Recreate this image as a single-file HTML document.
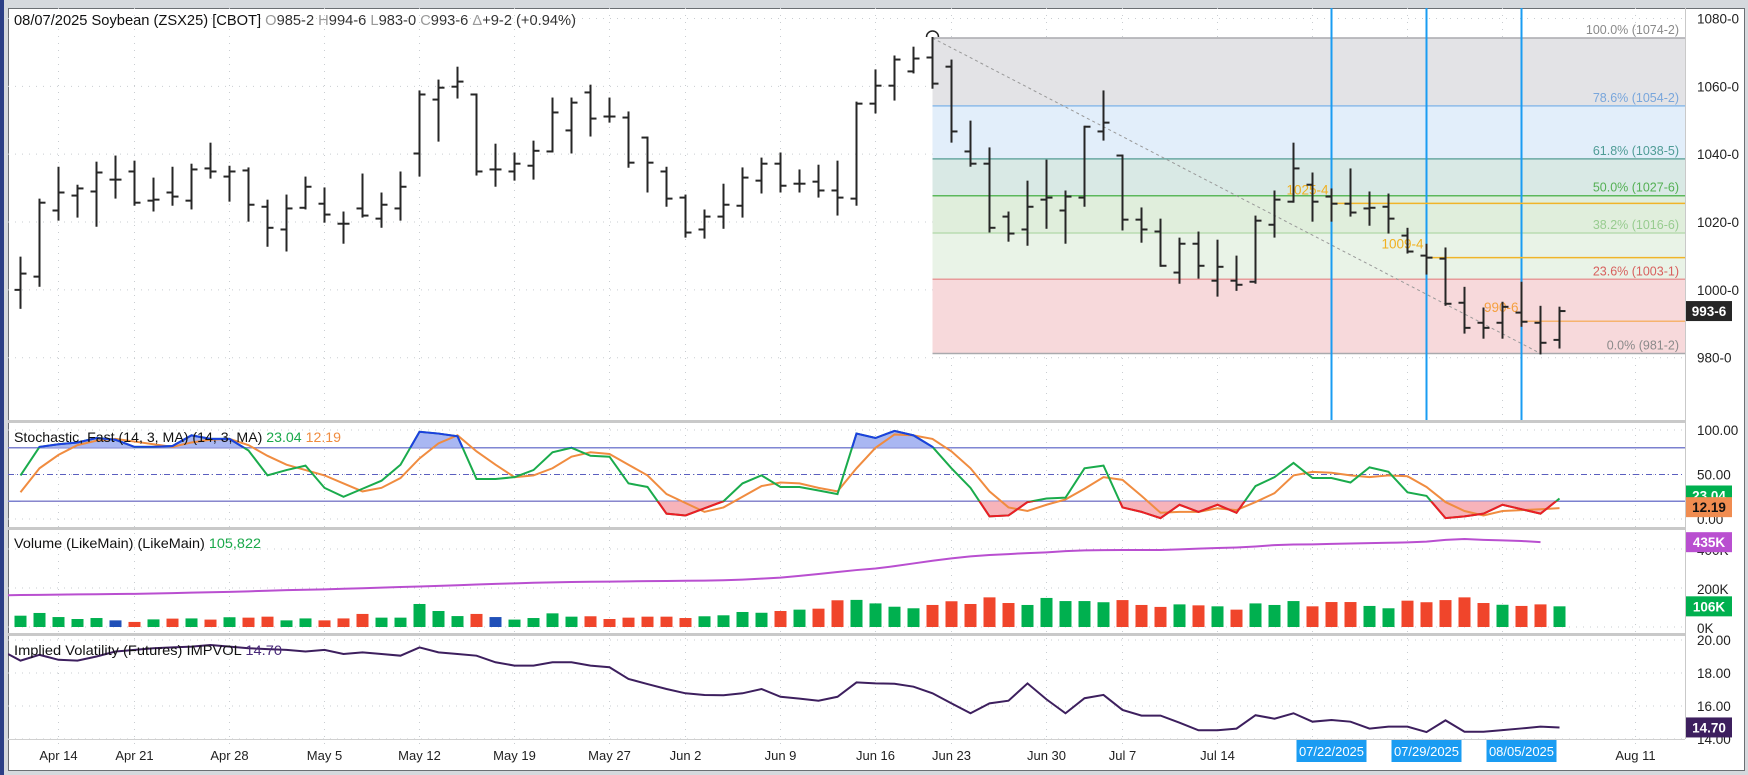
<!DOCTYPE html>
<html><head><meta charset="utf-8">
<style>
html,body{margin:0;padding:0;background:#d5d9dd;}
svg{display:block;font-family:"Liberation Sans",sans-serif;}
</style></head>
<body>
<svg id="chart" width="1748" height="775" viewBox="0 0 1748 775">
<defs>
<clipPath id="cp-price"><rect x="8" y="8" width="1677" height="412"/></clipPath>
<clipPath id="cp-stoch"><rect x="8" y="423" width="1677" height="104"/></clipPath>
<clipPath id="cp-vol"><rect x="8" y="530" width="1677" height="103"/></clipPath>
<clipPath id="cp-iv"><rect x="8" y="636" width="1677" height="102"/></clipPath>
<clipPath id="cp-above80"><rect x="8" y="423" width="1677" height="24.8"/></clipPath>
<clipPath id="cp-below20"><rect x="8" y="501.2" width="1677" height="26"/></clipPath>
</defs>
<rect x="0" y="0" width="1748" height="775" fill="#d5d9dd"/>
<rect x="0" y="0" width="4" height="775" fill="#2b3f86"/>
<rect x="8.5" y="8.5" width="1736" height="762" fill="#ffffff" stroke="#6b6f73"/>
<line x1="1685.5" y1="8" x2="1685.5" y2="739" stroke="#c9c9c9"/>
<g id="grid"></g>
<g id="fib" clip-path="url(#cp-price)"></g>
<g id="price" clip-path="url(#cp-price)"></g>
<g id="stoch" clip-path="url(#cp-stoch)"></g>
<g id="vol" clip-path="url(#cp-vol)"></g>
<g id="iv" clip-path="url(#cp-iv)"></g>
<g id="seps">
<rect x="8" y="420" width="1677" height="3" fill="#c9c9c9"/>
<rect x="8" y="527" width="1677" height="3" fill="#c9c9c9"/>
<rect x="8" y="633" width="1677" height="3" fill="#c9c9c9"/>
<line x1="8" y1="739.5" x2="1685" y2="739.5" stroke="#d0d0d0"/>
</g>
<g id="axes"></g>
<text x="14" y="25" font-size="14.5" textLength="562" lengthAdjust="spacingAndGlyphs"><tspan fill="#111">08/07/2025 Soybean (ZSX25) [CBOT] </tspan><tspan fill="#999">O</tspan><tspan fill="#333">985-2 </tspan><tspan fill="#999">H</tspan><tspan fill="#333">994-6 </tspan><tspan fill="#999">L</tspan><tspan fill="#333">983-0 </tspan><tspan fill="#999">C</tspan><tspan fill="#333">993-6 </tspan><tspan fill="#999">Δ</tspan><tspan fill="#333">+9-2 (+0.94%)</tspan></text>
<text x="14" y="442" font-size="14" textLength="327" lengthAdjust="spacingAndGlyphs"><tspan fill="#111">Stochastic, Fast (14, 3, MA) (14, 3, MA) </tspan><tspan fill="#1aa84a">23.04 </tspan><tspan fill="#f08c40">12.19</tspan></text>
<text x="14" y="548" font-size="14" textLength="247" lengthAdjust="spacingAndGlyphs"><tspan fill="#111">Volume (LikeMain) (LikeMain) </tspan><tspan fill="#1aa84a">105,822</tspan></text>
<text x="14" y="655" font-size="14" textLength="268" lengthAdjust="spacingAndGlyphs"><tspan fill="#111">Implied Volatility (Futures) IMPVOL </tspan><tspan fill="#4a2a7a">14.70</tspan></text>
</svg>
<script>
const opens=[1000,1003.9,1023.4,1027.8,1029,1032.5,1034.9,1026.3,1028.7,1026.3,1035.8,1033.4,1035.2,1024.5,1017.8,1024.2,1025.4,1019.5,1024,1021,1024,1040.2,1056.1,1059.9,1057.6,1035.5,1034.9,1036.6,1040.8,1047,1058.2,1051.1,1050.8,1044.9,1034.9,1027.2,1017.8,1021.6,1024.8,1032.2,1037.2,1031.3,1031.9,1029.3,1026.9,1054.9,1060.2,1064.4,1068.5,1065.8,1040.8,1037.2,1021.6,1017.8,1026.6,1023.4,1027.2,1046.7,1039.6,1020.7,1017.2,1005.1,1013.6,1002.7,1002.7,1002.4,1019.2,1026,1031,1027.5,1025.4,1024,1024.5,1016,1010.1,1009.2,996.2,990.3,990.3,993.3,990.3,985.25];
const highs=[1009.5,1026.6,1036,1030.7,1037.5,1039.3,1037.8,1032.8,1036,1036.9,1043.1,1036.3,1035.8,1026.3,1027.8,1033.1,1029.9,1022.8,1034,1028.4,1034.6,1058.5,1061.7,1065.5,1057.6,1042.8,1040.2,1043.7,1056.4,1056.4,1060.2,1056.4,1052.3,1044.9,1036,1027.8,1023.4,1031,1035.8,1038.7,1040.2,1035.2,1036.6,1037.8,1055.2,1064.7,1068.8,1071.4,1074.25,1067.6,1049.6,1041.7,1022.8,1031.9,1038.1,1029,1048.1,1058.5,1039.6,1024,1020.7,1015.1,1016.9,1014.5,1009.8,1021.6,1029,1043.1,1034.3,1029.6,1035.5,1028.7,1028.1,1018,1013.3,1012.2,1000.6,994.5,996.2,1002.1,995,994.75];
const lows=[994.7,1001.2,1020.7,1021.6,1018.9,1027.2,1025.1,1023.4,1025.1,1024,1033.1,1026.3,1020.4,1013,1011.6,1024,1020.1,1013.9,1021.6,1018.6,1020.7,1033.7,1044,1056.7,1034,1030.7,1032.5,1032.8,1040.8,1040.5,1045.5,1049.6,1036.3,1029,1024.8,1015.7,1015.4,1018.3,1021.6,1028.7,1029,1029,1027.5,1022.2,1025.1,1052.3,1056.1,1064.1,1059.6,1043.7,1036.6,1017.2,1014.5,1013.3,1018.3,1013.9,1024.8,1044.3,1017.8,1014.2,1007.1,1002.1,1003.6,998.3,1000,1002.1,1015.7,1026,1020.4,1020.4,1021.9,1019.2,1016.9,1011,1004.8,995.6,987.4,985.9,985.9,989.4,981.25,983];
const closes=[1004.8,1025.7,1028.7,1029.9,1034.6,1032.5,1025.7,1026.6,1027.5,1035.5,1034.9,1034.9,1025.1,1018.3,1024,1030.4,1022.2,1019.5,1021.9,1025.1,1030.4,1057.6,1059.6,1061.4,1034.9,1035.5,1037.2,1041,1052.3,1055.2,1050.5,1051.1,1037.5,1037.5,1026.9,1016.9,1021.6,1025.1,1033.1,1037.2,1030.7,1031.3,1029.3,1027.2,1054.9,1060.2,1067.9,1068.2,1060.8,1046.7,1037.2,1018.3,1016.6,1024.5,1027.2,1027.5,1048.1,1049.3,1020.7,1017.8,1007.1,1013.6,1007.1,1006.8,1001.5,1020.4,1026.6,1035.8,1026,1025.4,1022.8,1024.2,1021,1011.3,1009.5,995.9,988.8,988.8,995,990.6,984.4,993.75];
const stochK=[49,81,84,86,91,89,81,81,82,94,90,90,77,49,55,60,35,25,34,43,61,98,96,93,45,45,47,55,75,80,71,70,40,36,6,4,12,20,40,49,36,36,32,28,96,91,99,94,81,57,35,3,4,19,23,24,57,60,13,8,1,16,8,16,7,37,47,63,46,46,41,58,53,30,26,1,3,6,16,11,6,23.04];
const stochD=[30,57,72,83,88,90,87,84,81,86,89,90,83,71,61,55,49,40,31,35,46,68,85,94,76,61,47,49,57,70,75,73,61,49,28,18,8,13,25,37,41,40,35,31,57,80,95,94,90,76,57,31,13,9,16,22,34,47,44,26,7,8,8,12,10,19,29,49,53,52,49,47,49,48,36,19,9,4,9,10,11,12.19];
const volume=[58,72,51,41,46,34,26,39,43,44,38,50,48,53,34,44,34,44,67,48,48,118,82,56,67,51,38,46,70,53,55,41,48,53,53,46,55,60,77,73,82,89,94,137,139,121,104,96,113,132,118,152,123,113,149,133,133,127,138,113,103,116,111,106,89,121,113,133,106,128,128,108,96,135,127,138,152,123,114,108,116,106];
const volColor=['g','g','g','g','g','b','r','g','r','g','r','g','r','r','g','g','r','r','r','g','g','g','g','g','r','b','g','g','g','g','r','r','r','r','r','r','g','g','g','g','r','g','r','r','g','g','g','g','r','r','r','r','r','g','g','g','g','g','r','r','r','g','r','g','r','g','g','g','r','r','r','g','g','r','r','r','r','r','g','r','r','g'];
const volMA=[164,165,166,167,168,169,170,172,174,176,178,180,183,186,189,191,193,196,199,202,205,208,211,214,218,221,224,227,229,231,232,233,234,235,236,237,238,240,243,248,253,262,272,282,292,300,312,326,340,352,362,369,374,379,383,389,393,394,395,395,395,398,402,405,408,413,420,423,424,426,428,430,432,434,438,447,451,447,444,441,435];
const impVol=[18.75,19.1,18.8,18.75,19.0,19.3,19.4,19.5,19.55,19.6,19.7,19.6,19.5,19.45,19.4,19.3,19.4,19.15,19.25,19.15,19.05,19.55,19.25,19.15,19.05,18.65,18.45,18.45,18.65,18.65,18.45,18.35,17.64,17.33,17.03,16.77,16.67,16.65,16.77,17.03,16.56,16.45,16.32,16.56,17.43,17.37,17.35,17.17,16.77,16.16,15.56,16.16,16.32,17.37,16.4,15.56,16.47,16.67,15.76,15.42,15.42,14.99,14.53,14.53,14.63,15.44,15.23,15.56,15.05,15.15,15.05,14.63,14.75,14.75,14.42,15.13,14.44,14.44,14.54,14.64,14.75,14.70];
const priceTicks=[1080,1060,1040,1020,1000,980];
const priceTickLabels=['1080-0','1060-0','1040-0','1020-0','1000-0','980-0'];
const stochTicks=[100,50,0];
const stochTickLabels=['100.00','50.00','0.00'];
const volTicks=[400,200,0];
const volTickLabels=['400K','200K','0K'];
const ivTicks=[20,18,16,14];
const ivTickLabels=['20.00','18.00','16.00','14.00'];
const dateIdx=[2,6,11,16,21,26,31,35,40,45,49,54,58,63,85];
const dateLabels=['Apr 14','Apr 21','Apr 28','May 5','May 12','May 19','May 27','Jun 2','Jun 9','Jun 16','Jun 23','Jun 30','Jul 7','Jul 14','Aug 11'];
const gridIdx=[2,6,11,16,21,26,31,35,40,45,49,54,58,63,68,73,78,85];
const markerIdx=[69,74,79];
const markerLabels=['07/22/2025','07/29/2025','08/05/2025'];
const fibVal=[1074.25,1054.25,1038.625,1027.75,1016.75,1003.125,981.25];
const fibLabels=['100.0% (1074-2)','78.6% (1054-2)','61.8% (1038-5)','50.0% (1027-6)','38.2% (1016-6)','23.6% (1003-1)','0.0% (981-2)'];
const fibStartIdx=48, fibEndIdx=80;
const annIdx=[69,74,79];
const annVal=[1025.5,1009.5,990.75];
const annLabels=['1025-4','1009-4','990-6'];

const NS='http://www.w3.org/2000/svg';
const PL=8, PR=1685;
function xOf(i){return 20.5+19*i;}
function yP(p){return 18.5+(1080-p)*3.392;}
function yS(v){return 519-v*0.89;}
function yV(k){return 627-k*0.195;}
function yI(v){return 673-(v-18)*16.5;}
function mk(tag,attrs,parent,text){const e=document.createElementNS(NS,tag);for(const k in attrs)e.setAttribute(k,attrs[k]);if(text!==undefined)e.textContent=text;parent.appendChild(e);return e;}
const G=id=>document.getElementById(id);
const grid=G('grid'),fib=G('fib'),price=G('price'),stoch=G('stoch'),vol=G('vol'),iv=G('iv'),axes=G('axes');
const DOT={stroke:'#c9cdd1','stroke-width':1,'stroke-dasharray':'1,6'};

gridIdx.forEach(i=>{
  const l=mk('line',Object.assign({x1:xOf(i),x2:xOf(i),y1:8,y2:745},DOT),grid);
  
  
});
priceTicks.forEach(p=>{
  const l=mk('line',Object.assign({x1:PL,x2:PR,y1:yP(p),y2:yP(p)},DOT),grid);
  
  
});
stochTicks.forEach(v=>{
  const l=mk('line',Object.assign({x1:PL,x2:PR,y1:yS(v),y2:yS(v)},DOT),grid);
  
  
});
volTicks.forEach(v=>{
  const l=mk('line',Object.assign({x1:PL,x2:PR,y1:yV(v),y2:yV(v)},DOT),grid);
  
  
});
ivTicks.forEach(v=>{
  const l=mk('line',Object.assign({x1:PL,x2:PR,y1:yI(v),y2:yI(v)},DOT),grid);
  
  
});

const zoneFill=['#e3e3e6','#e2eefa','#d9e9e5','#e0eedc','#e9f3e7','#f7d9db'];
const lineCol=['#a9a9ad','#8dbbe9','#6aa9a2','#5cb85c','#b9dcb2','#e89a9a','#a9a9ad'];
const labCol=['#8a8a8a','#78a6dc','#4f9c96','#54b054','#98cc90','#d8605e','#8a8a8a'];
const fx0=xOf(fibStartIdx);
for(let k=0;k<zoneFill.length;k++){
  const r=mk('rect',{x:fx0,y:yP(fibVal[k]),width:PR-fx0,height:yP(fibVal[k+1])-yP(fibVal[k]),fill:zoneFill[k]},fib);
  
  
}
fibVal.forEach((v,k)=>{
  const l=mk('line',{x1:fx0,x2:PR,y1:yP(v),y2:yP(v),stroke:lineCol[k],'stroke-width':1.5},fib);
  
  
  const t=mk('text',{x:1679,y:yP(v)-4,'font-size':12.5,'text-anchor':'end',fill:labCol[k]},fib,fibLabels[k]);
  
  
});
const tl=mk('line',{x1:xOf(fibStartIdx),y1:yP(highs[fibStartIdx]),x2:xOf(fibEndIdx),y2:yP(lows[fibEndIdx]),stroke:'#999','stroke-width':1,'stroke-dasharray':'3,3'},fib);


const ax=xOf(fibStartIdx), ay=yP(highs[fibStartIdx])-1;
const arc=mk('path',{d:`M${ax-6},${ay} A6,6 0 0 1 ${ax+6},${ay}`,fill:'none',stroke:'#222','stroke-width':1.5},fib);



markerIdx.forEach(i=>{
  const l=mk('line',{x1:xOf(i),x2:xOf(i),y1:8,y2:421,stroke:'#1a9cf2','stroke-width':2},price);
  
  
});
annIdx.forEach((i,k)=>{
  const c=k==2?'#f6b36e':'#f0b429';
  const l=mk('line',{x1:xOf(i),x2:PR,y1:yP(annVal[k]),y2:yP(annVal[k]),stroke:c,'stroke-width':1.5},price);
  
  
  const t=mk('text',{x:xOf(i)-3,y:yP(annVal[k])-9,'font-size':13.5,'text-anchor':'end',fill:k==2?'#f5a040':'#f0b020'},price,annLabels[k]);
  
  
});
for(let i=0;i<closes.length;i++){
  const x=xOf(i);
  const g=mk('g',{stroke:'#262626','stroke-width':2},price);
  
  
  mk('line',{x1:x,x2:x,y1:yP(highs[i])-1,y2:yP(lows[i])+1},g);
  mk('line',{x1:x-6,x2:x,y1:yP(opens[i]),y2:yP(opens[i])},g);
  mk('line',{x1:x,x2:x+6,y1:yP(closes[i]),y2:yP(closes[i])},g);
}

const l80=mk('line',{x1:PL,x2:PR,y1:yS(80),y2:yS(80),stroke:'#7b80cf','stroke-width':1.5},stoch);


const l20=mk('line',{x1:PL,x2:PR,y1:yS(20),y2:yS(20),stroke:'#7b80cf','stroke-width':1.5},stoch);


const l50=mk('line',{x1:PL,x2:PR,y1:yS(50),y2:yS(50),stroke:'#5b5fbf','stroke-width':1,'stroke-dasharray':'6,3,1,3'},stoch);


const kPts=stochK.map((v,i)=>xOf(i)+','+yS(v)).join(' ');
const dPts=stochD.map((v,i)=>xOf(i)+','+yS(v)).join(' ');
const fa=mk('polygon',{points:`${xOf(0)},${yS(80)} ${kPts} ${xOf(stochK.length-1)},${yS(80)}`,fill:'#a9b7f2','clip-path':'url(#cp-above80)'},stoch);


const fb=mk('polygon',{points:`${xOf(0)},${yS(20)} ${kPts} ${xOf(stochK.length-1)},${yS(20)}`,fill:'#f7b3ba','clip-path':'url(#cp-below20)'},stoch);


const dl=mk('polyline',{points:dPts,fill:'none',stroke:'#f08c40','stroke-width':2},stoch);


const kl=mk('polyline',{points:kPts,fill:'none',stroke:'#1aab4c','stroke-width':2},stoch);


const kb=mk('polyline',{points:kPts,fill:'none',stroke:'#1c3fe0','stroke-width':2,'clip-path':'url(#cp-above80)'},stoch);


const kr=mk('polyline',{points:kPts,fill:'none',stroke:'#ee1c25','stroke-width':2,'clip-path':'url(#cp-below20)'},stoch);



const colMap={g:'#00b04f',r:'#f0452b',b:'#2050b8'};
volume.forEach((v,i)=>{
  const r=mk('rect',{x:xOf(i)-6,y:yV(v),width:12,height:yV(0)-yV(v),fill:colMap[volColor[i]]},vol);
  
  
});
const ma=mk('polyline',{points:`${PL},${yV(volMA[0]-1)} `+volMA.map((v,i)=>xOf(i)+','+yV(v)).join(' '),fill:'none',stroke:'#b94fd0','stroke-width':2},vol);



const ivl=mk('polyline',{points:`${PL},${yI(impVol[0]+0.4)} `+impVol.map((v,i)=>xOf(i)+','+yI(v)).join(' '),fill:'none',stroke:'#3d1f5e','stroke-width':2},iv);



function axLabel(txt,y,name){const t=mk('text',{x:1697,y:y+5,'font-size':13.5,fill:'#222'},axes,txt);}
priceTicks.forEach((p,k)=>axLabel(priceTickLabels[k],yP(p),'price-axis-label'));
stochTicks.forEach((v,k)=>axLabel(stochTickLabels[k],yS(v),'stoch-axis-label'));
volTicks.forEach((v,k)=>axLabel(volTickLabels[k],yV(v)+1,'volume-axis-label'));
ivTicks.forEach((v,k)=>axLabel(ivTickLabels[k],yI(v),'iv-axis-label'));
function tag(txt,y,bg,fg,name){
  const g=mk('g',{},axes);
  
  
  mk('rect',{x:1686,y:y-10,width:46,height:20,fill:bg},g);
  mk('text',{x:1709,y:y+5,'font-size':13.5,'text-anchor':'middle',fill:fg,'font-weight':'bold'},g,txt);
}
tag('993-6',yP(closes[closes.length-1]),'#262626','#fff','last-price-tag');
tag('23.04',yS(stochK[stochK.length-1])-3,'#00b04f','#fff','stoch-k-tag');
tag('12.19',yS(stochD[stochD.length-1])-1,'#f08c50','#111','stoch-d-tag');
tag('435K',yV(volMA[volMA.length-1]),'#b94fd0','#fff','volume-ma-tag');
tag('106K',yV(volume[volume.length-1]),'#00b04f','#fff','volume-tag');
tag('14.70',yI(impVol[impVol.length-1]),'#3d1f5e','#fff','iv-tag');

dateIdx.forEach((i,k)=>{
  const t=mk('text',{x:xOf(i),y:760,'font-size':13,'text-anchor':'middle',fill:'#222'},axes,dateLabels[k]);
  
  
});
markerIdx.forEach((i,k)=>{
  const g=mk('g',{},axes);
  
  
  mk('rect',{x:xOf(i)-35,y:740,width:70,height:22,fill:'#1a9cf2'},g);
  mk('text',{x:xOf(i),y:756,'font-size':13,'text-anchor':'middle',fill:'#fff'},g,markerLabels[k]);
});
</script>
</body></html>
